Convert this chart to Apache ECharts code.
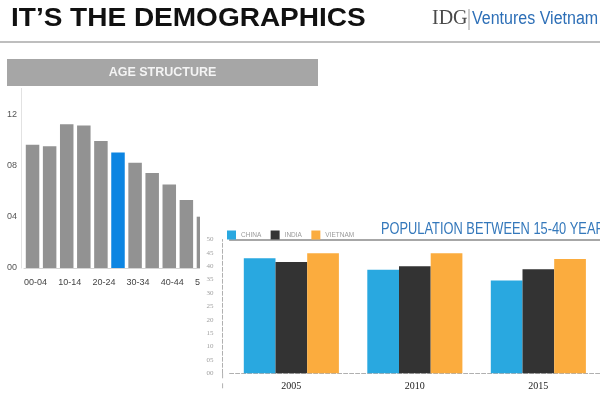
<!DOCTYPE html>
<html>
<head>
<meta charset="utf-8">
<title>It's the demographics</title>
<script src="https://cdn.jsdelivr.net/npm/echarts@6/dist/echarts.min.js"></script>
<style>
    html, body { margin: 0; padding: 0; background: #fff; }
    #chart { width: 600px; height: 397px; }
</style>
</head>
<body>
<div id="chart"></div>
<script>
// age structure (share of population, %)
const ageGroups = ['00-04', '05-09', '10-14', '15-19', '20-24', '25-29', '30-34', '35-39', '40-44', '45-49', '50-54'];
const ageShare = [9.6, 9.5, 11.2, 11.1, 9.9, 9.0, 8.2, 7.4, 6.5, 5.3, 4.0];
const highlightGroup = '25-29';

// population between 15-40 years (%)
const popYears = ['2005', '2010', '2015'];
const countryNames = ['CHINA', 'INDIA', 'VIETNAM'];
const chinaPop = [43.0, 38.7, 34.7];
const indiaPop = [41.6, 40.0, 38.9];
const vietnamPop = [44.9, 44.9, 42.7];

function pad2(v) {
    return v < 10 ? '0' + v : '' + v;
}

function initChart() {
    let myChart = echarts.init(document.getElementById('chart'));
    let sans = '"Liberation Sans", Arial, sans-serif';
    let serif = '"Liberation Serif", "DejaVu Serif", serif';
    let option = {
        animation: false,
        backgroundColor: '#fff',
        graphic: [
            // header
            {
                type: 'text', x: 11, y: 19.5, scaleX: 1.12, z: 10,
                style: {
                    text: 'IT\u2019S THE DEMOGRAPHICS', fill: '#111',
                    font: 'bold 25px ' + sans,
                    textVerticalAlign: 'middle', verticalAlign: 'middle'
                }
            },
            {
                type: 'text', x: 432, y: 19, z: 10,
                style: {
                    text: 'IDG', fill: '#4a4a4a',
                    font: '20px ' + serif,
                    textVerticalAlign: 'middle', verticalAlign: 'middle'
                }
            },
            {
                type: 'line', z: 10,
                shape: { x1: 469, y1: 9, x2: 469, y2: 30 },
                style: { stroke: '#9a9a9a', lineWidth: 1 }
            },
            {
                type: 'text', x: 472, y: 19, scaleX: 0.89, z: 10,
                style: {
                    text: 'Ventures Vietnam', fill: '#2d6fb7',
                    font: '18px ' + sans,
                    textVerticalAlign: 'middle', verticalAlign: 'middle'
                }
            },
            {
                type: 'line', z: 10,
                shape: { x1: 0, y1: 42, x2: 600, y2: 42 },
                style: { stroke: '#a8a8a8', lineWidth: 1.5 }
            },
            // age structure banner
            {
                type: 'rect', z: 10,
                shape: { x: 7, y: 59, width: 311, height: 27 },
                style: { fill: '#a6a6a6' }
            },
            {
                type: 'text', x: 162.5, y: 73, z: 11,
                style: {
                    text: 'AGE STRUCTURE', fill: '#f4f4f4',
                    font: 'bold 12.5px ' + sans,
                    textAlign: 'center', align: 'center',
                    textVerticalAlign: 'middle', verticalAlign: 'middle'
                }
            },
            // white panel of the second chart, lying over the first one
            {
                type: 'rect', z: 2.5,
                shape: { x: 200, y: 205, width: 400, height: 192 },
                style: { fill: '#fff' }
            },
            // dashed y axis running on below the zero line
            {
                type: 'line', z: 4,
                shape: { x1: 222.6, y1: 373.3, x2: 222.6, y2: 391 },
                style: { stroke: '#b0b0b0', lineWidth: 1, lineDash: [5, 5] }
            },
            {
                type: 'text', x: 381, y: 229, scaleX: 0.755, z: 10,
                style: {
                    text: 'POPULATION BETWEEN 15-40 YEARS', fill: '#3478bb',
                    font: '17px ' + sans,
                    textVerticalAlign: 'middle', verticalAlign: 'middle'
                }
            }
        ],
        legend: {
            data: countryNames,
            left: 222, top: 225.5,
            itemWidth: 9, itemHeight: 9, itemGap: 9.4,
            icon: 'rect', z: 6,
            textStyle: { color: '#9a9a9a', fontSize: 6.5, fontFamily: sans }
        },
        grid: [
            { left: 24, top: 88.4, width: 188, bottom: 129, outerBoundsMode: 'none' },
            { left: 229.6, top: 239.5, width: 370.5, bottom: 23.7, outerBoundsMode: 'none' }
        ],
        xAxis: [
            {
                type: 'category', gridIndex: 0, data: ageGroups,
                offset: 4,
                axisLine: { lineStyle: { color: '#d4d4d4' } },
                axisTick: { show: false },
                axisLabel: { interval: 1, margin: 6, padding: [0, 0, 0, 6], fontSize: 9, color: '#444', fontFamily: sans }
            },
            {
                type: 'category', gridIndex: 1, data: popYears, z: 3,
                axisLine: { lineStyle: { color: '#b0b0b0', type: 'dashed' } },
                axisTick: { show: false },
                axisLabel: { margin: 8, fontSize: 10, color: '#222', fontFamily: serif }
            },
            {
                type: 'category', gridIndex: 1, data: popYears, position: 'top', z: 3,
                axisLine: { lineStyle: { color: '#8a8a8a', width: 1.5 } },
                axisTick: { show: false },
                axisLabel: { show: false }
            }
        ],
        yAxis: [
            {
                type: 'value', gridIndex: 0, min: 0, max: 14, interval: 4,
                offset: 3,
                axisLine: { show: true, lineStyle: { color: '#e2e2e2' } },
                axisTick: { show: false },
                splitLine: { show: false },
                axisLabel: {
                    showMaxLabel: false, margin: 4, fontSize: 9, color: '#555',
                    fontFamily: sans,
                    formatter: function (v) { return pad2(v); }
                }
            },
            {
                type: 'value', gridIndex: 1, min: 0, max: 50, interval: 5,
                offset: 7, z: 3,
                axisLine: { show: true, lineStyle: { color: '#b0b0b0', type: 'dashed' } },
                axisTick: { show: false },
                splitLine: { show: false },
                axisLabel: {
                    margin: 9, fontSize: 7, color: '#a0a0a0',
                    fontFamily: serif,
                    formatter: function (v) { return pad2(v); }
                }
            }
        ],
        series: [
            {
                type: 'bar', xAxisIndex: 0, yAxisIndex: 0, z: 2,
                barCategoryGap: '21%',
                itemStyle: { color: '#929292' },
                data: ageShare.map(function (v, i) {
                    if (ageGroups[i] === highlightGroup) {
                        return { value: v, itemStyle: { color: '#0c85e2' } };
                    }
                    return v;
                })
            },
            {
                name: countryNames[0], type: 'bar', xAxisIndex: 1, yAxisIndex: 1, z: 3,
                barGap: 0, barCategoryGap: '23%',
                itemStyle: { color: '#29a8e0' },
                data: chinaPop
            },
            {
                name: countryNames[1], type: 'bar', xAxisIndex: 1, yAxisIndex: 1, z: 3,
                barGap: 0, barCategoryGap: '23%',
                itemStyle: { color: '#333333' },
                data: indiaPop
            },
            {
                name: countryNames[2], type: 'bar', xAxisIndex: 1, yAxisIndex: 1, z: 3,
                barGap: 0, barCategoryGap: '23%',
                itemStyle: { color: '#fbac3e' },
                data: vietnamPop
            }
        ]
    };
    myChart.setOption(option);
    window.onresize = function () {
        myChart.resize();
    };
    return myChart;
}

initChart();
</script>
</body>
</html>
